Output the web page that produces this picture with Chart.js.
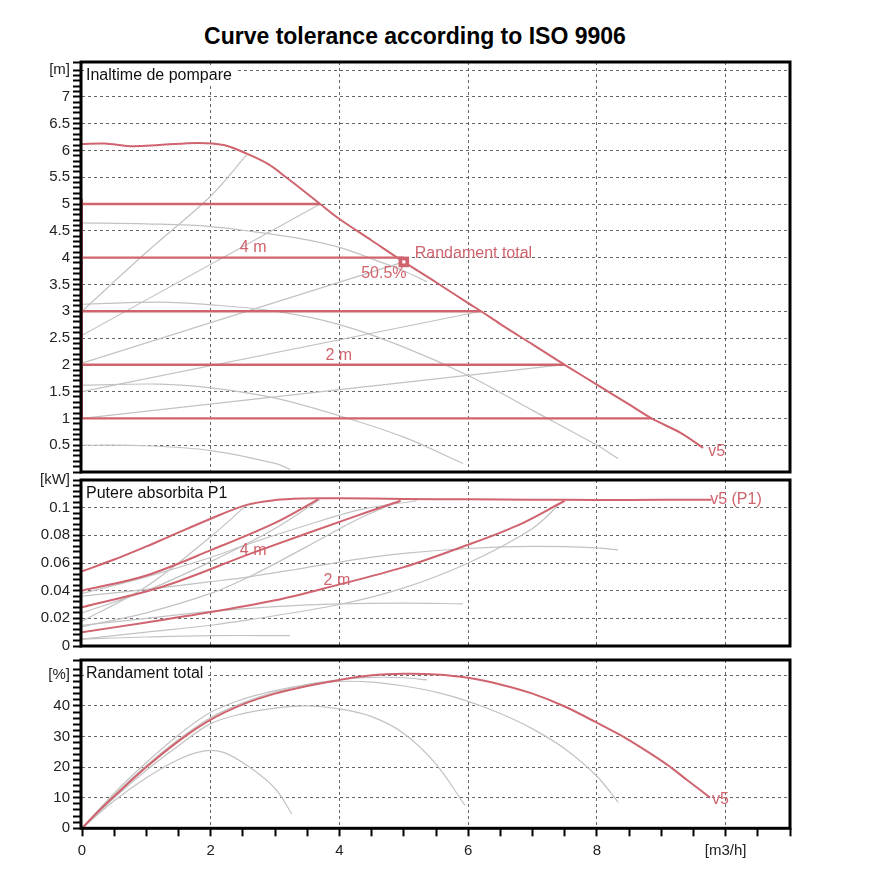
<!DOCTYPE html>
<html>
<head>
<meta charset="utf-8">
<script src="https://cdn.jsdelivr.net/npm/chart.js@4.4.1/dist/chart.umd.min.js"></script>
<style>
  body { margin: 0; background: #fff; }
  #wrap { position: relative; width: 880px; height: 880px; }
  .panel { position: absolute; left: 0; width: 880px; }
  #title {
    position: absolute; left: 0; top: 22px; width: 830px; text-align: center;
    font: bold 23px "Liberation Sans", Arial, sans-serif; line-height: 28px; color: #000;
  }
</style>
</head>
<body>
<div id="wrap">
  <div id="title">Curve tolerance according to ISO 9906</div>
  <div class="panel" style="top:50px;height:434px"><canvas id="headChart"></canvas></div>
  <div class="panel" style="top:468px;height:190px"><canvas id="powerChart"></canvas></div>
  <div class="panel" style="top:648px;height:232px"><canvas id="effChart"></canvas></div>
</div>
<script>
// ---- tick labels ----
const flowTickVals = [0, 2, 4, 6, 8, 10];
const flowTickText = ['0', '2', '4', '6', '8', '[m3/h]'];
const headTickVals = [0.5, 1, 1.5, 2, 2.5, 3, 3.5, 4, 4.5, 5, 5.5, 6, 6.5, 7, 7.5];
const headTickText = ['0.5', '1', '1.5', '2', '2.5', '3', '3.5', '4', '4.5', '5', '5.5', '6', '6.5', '7', '[m]'];
const powerTickVals = [0, 0.02, 0.04, 0.06, 0.08, 0.1, 0.12];
const powerTickText = ['0', '0.02', '0.04', '0.06', '0.08', '0.1', '[kW]'];
const effTickVals = [0, 10, 20, 30, 40, 50];
const effTickText = ['0', '10', '20', '30', '40', '[%]'];

// ---- Inaltime de pompare [m] ----
const headQ  = [0, 0.35, 0.75, 1.2, 1.8, 2.2, 2.56, 2.9, 3.18, 3.45, 3.7, 4.0, 4.5, 5.0, 5.5, 6.0, 6.2, 6.5, 7.0, 7.5, 8.0, 8.5, 8.85, 9.3, 9.65];
const headV5 = [6.12, 6.13, 6.08, 6.1, 6.14, 6.1, 5.94, 5.74, 5.49, 5.24, 5.0, 4.72, 4.32, 3.92, 3.54, 3.15, 3.0, 2.76, 2.38, 2.0, 1.63, 1.26, 1.0, 0.73, 0.45];
const levelHead = [5, 4, 3, 2, 1];
const levelEndQ = [3.7, 5.0, 6.2, 7.5, 8.85];
const axisRedH = [1, 5.1];
const dutyQ = [5.0];
const dutyH = [3.92];
// lower speed curves
const headAQ = [0, 1, 2, 3, 3.5, 4, 4.5, 5, 5.36];
const headA  = [4.65, 4.63, 4.58, 4.43, 4.33, 4.19, 3.98, 3.75, 3.55];
const headBQ = [0, 1.2, 2, 3, 4, 5, 6, 7, 8, 8.33];
const headB  = [3.13, 3.17, 3.12, 3.0, 2.75, 2.33, 1.8, 1.15, 0.5, 0.25];
const headCQ = [0, 1.2, 2, 3, 4, 5, 5.92];
const headC  = [1.62, 1.64, 1.57, 1.38, 1.05, 0.65, 0.16];
const headDQ = [0, 1, 2, 3, 3.23];
const headD  = [0.5, 0.49, 0.4, 0.16, 0.05];
// system lines
const sysEQ = [0, 1, 2, 2.56];
const sysE  = [3.0, 4.1, 5.15, 5.92];
const sysFQ = [0, 3.7];
const sysF  = [2.55, 5.0];
const sysGQ = [0, 5.0];
const sysG  = [2.03, 3.92];
const sysHQ = [0, 6.2];
const sysH  = [1.5, 3.0];
const sysIQ = [0, 7.45];
const sysI  = [1.0, 2.0];

// ---- Putere absorbita P1 [kW] ----
const powerQ  = [0, 0.5, 1, 1.3, 2, 2.56, 3, 3.4, 4, 5, 6, 7, 8, 9, 9.78];
const powerV5 = [0.054, 0.0625, 0.072, 0.078, 0.092, 0.102, 0.1055, 0.1067, 0.1068, 0.1063, 0.106, 0.1058, 0.1056, 0.1057, 0.1058];
const p5mQ = [0, 1, 2.04, 3, 3.67];
const p5m  = [0.04, 0.051, 0.07, 0.089, 0.106];
const p4mQ = [0, 1.26, 2.66, 4.32, 4.95];
const p4m  = [0.028, 0.043, 0.0675, 0.095, 0.105];
const p2mQ = [0, 1, 2, 3, 3.9, 5, 5.87, 6.76, 7.5];
const p2m  = [0.01, 0.017, 0.0245, 0.033, 0.0433, 0.057, 0.071, 0.087, 0.105];
const powAQ = [0, 1, 2, 2.6, 3.4, 4.32, 5.2];
const powA  = [0.038, 0.05, 0.064, 0.074, 0.086, 0.0986, 0.105];
const powBQ = [0, 1, 2, 2.6, 3.4, 4.32, 5, 6, 7, 8, 8.33];
const powB  = [0.036, 0.041, 0.0465, 0.05, 0.056, 0.063, 0.067, 0.0705, 0.072, 0.071, 0.0695];
const powCQ = [0, 1, 2, 3, 4, 5, 5.92];
const powC  = [0.015, 0.02, 0.025, 0.0285, 0.0305, 0.031, 0.0305];
const powDQ = [0, 1, 2, 3.23];
const powD  = [0.005, 0.0065, 0.0075, 0.0075];
const powSEQ = [0, 1, 2, 2.56];
const powSE  = [0.018, 0.043, 0.079, 0.102];
const powSFQ = [0, 1, 2, 3, 3.7];
const powSF  = [0.024, 0.04, 0.061, 0.085, 0.106];
const powSGQ = [0, 1, 2, 2.6, 3.5, 4.3, 4.95];
const powSG  = [0.014, 0.024, 0.038, 0.05, 0.072, 0.092, 0.105];
const powSIQ = [0, 1, 2, 2.6, 4, 5, 6, 7, 7.45];
const powSI  = [0.005, 0.01, 0.015, 0.019, 0.03, 0.042, 0.06, 0.085, 0.104];

// ---- Randament total [%] ----
const effQ  = [0, 0.25, 0.5, 1, 1.5, 2, 2.5, 3, 3.5, 4, 4.5, 5, 5.5, 6, 6.5, 7, 7.5, 8, 8.36, 8.7, 9.09, 9.4, 9.76];
const effV5 = [0, 5.5, 10.5, 20, 28.5, 35.5, 40.5, 44, 46.5, 48.5, 50, 50.5, 50.3, 49.2, 47, 44, 39.8, 34.5, 30.5, 26.2, 20.8, 15.8, 10];
const effAQ = [0, 0.5, 1, 1.5, 2, 2.5, 3, 3.5, 4, 4.5, 5, 5.36];
const effA  = [0, 10.8, 20.5, 29, 36.2, 41, 44.5, 47, 48.5, 49.3, 49.2, 48.5];
const effBQ = [0, 0.5, 1, 1.5, 2, 2.5, 3, 3.5, 4, 4.5, 5, 5.5, 6, 6.5, 7, 7.5, 8, 8.33];
const effB  = [0, 11.5, 21.5, 30.5, 37.9, 42.2, 45, 47, 48, 47.8, 46.5, 44.5, 41.5, 37.5, 32.5, 26, 17, 8.5];
const effCQ = [0, 0.5, 1, 1.5, 2, 2.5, 3, 3.5, 4, 4.5, 5, 5.5, 5.95];
const effC  = [0, 10, 19, 27, 34.2, 37.5, 39.3, 40, 39, 36.5, 31, 21, 7.5];
const effDQ = [0, 0.5, 1, 1.5, 1.9, 2.2, 2.6, 3.0, 3.26];
const effD  = [0, 9, 16.5, 22.5, 25.3, 24.8, 20, 13, 4.7];

const RED = '#d0646e';
const GREY = '#c2c2c2';
const GRID = 'rgba(85,85,85,0.9)';
const FONT = '"Liberation Sans", Arial, sans-serif';

function pts(xs, ys) { return xs.map((x, i) => ({ x, y: ys[i] })); }

function line(data, color, width, smooth = true) {
  return {
    data, borderColor: color, borderWidth: width, pointRadius: 0, fill: false,
    tension: smooth ? 0.35 : 0
  };
}

function near(list, v) { return list.findIndex(l => Math.abs(l - v) < 1e-6); }

function xScale(showLabels) {
  return {
    type: 'linear', min: 0, max: 11,
    border: { display: false, dash: [3, 3] },
    grid: {
      color: c => (c.tick && c.tick.value > 0 && near(flowTickVals, c.tick.value) >= 0) ? GRID : 'transparent',
      drawTicks: showLabels, tickLength: 8, tickColor: '#000', tickWidth: 2
    },
    ticks: {
      display: showLabels, stepSize: 0.5, autoSkip: false, maxRotation: 0, padding: 6,
      color: '#222', font: { family: FONT, size: 15 },
      callback: v => { const i = near(flowTickVals, v); return i < 0 ? '' : flowTickText[i]; }
    },
    afterFit: s => { s.height = showLabels ? 51.7 : 0; }
  };
}

function yScale(min, max, step, vals, texts) {
  return {
    type: 'linear', min, max,
    border: { display: false, dash: [3, 3] },
    grid: {
      color: c => (c.tick && c.tick.value > 0 && c.tick.value < max - 1e-6 && near(vals, c.tick.value) >= 0) ? GRID : 'transparent',
      tickLength: 9, tickColor: '#000', tickWidth: 2
    },
    ticks: {
      stepSize: step, autoSkip: false, padding: 3,
      color: '#222', font: { family: FONT, size: 15 },
      callback: v => { const i = near(vals, v); return i < 0 ? '' : texts[i]; }
    },
    afterFit: s => { s.width = 82; }
  };
}

// captions, curve names and frame
const notesPlugin = {
  id: 'notes',
  afterDatasetsDraw(chart, args, opts) {
    const { ctx, chartArea: a, scales: { x, y } } = chart;
    ctx.save();
    ctx.textBaseline = 'middle';
    ctx.font = '16px ' + FONT;
    const w = ctx.measureText(opts.caption).width;
    ctx.fillStyle = '#fff';
    ctx.fillRect(a.left + 2, a.top + 4, w + 6, 19);
    ctx.fillStyle = '#111';
    ctx.textAlign = 'left';
    ctx.fillText(opts.caption, a.left + 4, a.top + 14);

    ctx.font = '16px ' + FONT;
    ctx.fillStyle = RED;
    (opts.labels || []).forEach(n => {
      ctx.textAlign = n.align || 'center';
      ctx.fillText(n.text, x.getPixelForValue(n.x), y.getPixelForValue(n.y));
    });

    ctx.strokeStyle = '#000';
    ctx.lineWidth = 3;
    ctx.strokeRect(a.left - 1, a.top, a.width + 1, a.height);
    ctx.restore();
  }
};

function options(yCfg, showX, pad, notes) {
  return {
    responsive: true, maintainAspectRatio: false, animation: false,
    layout: { padding: { top: pad[0], bottom: pad[1], left: 0, right: 90 } },
    plugins: { legend: { display: false }, tooltip: { enabled: false }, notes },
    scales: { x: xScale(showX), y: yCfg }
  };
}

// head chart
const headSets = [
  {
    data: pts(dutyQ, dutyH), showLine: false, pointStyle: 'rect', pointRadius: 2.2,
    pointBorderWidth: 0, pointBackgroundColor: '#fff'
  },
  {
    data: pts(dutyQ, dutyH), showLine: false, pointStyle: 'rect', pointRadius: 7.5,
    pointBorderWidth: 0, pointBackgroundColor: RED
  },
  line(pts(headQ, headV5), RED, 2),
  ...levelHead.map((h, i) => line(pts([0, levelEndQ[i]], [h, h]), RED, 2.4, false)),
  line(pts([0, 0], axisRedH), RED, 2, false),
  line(pts(headAQ, headA), GREY, 1.2),
  line(pts(headBQ, headB), GREY, 1.2),
  line(pts(headCQ, headC), GREY, 1.2),
  line(pts(headDQ, headD), GREY, 1.2),
  line(pts(sysEQ, sysE), GREY, 1.2),
  line(pts(sysFQ, sysF), GREY, 1.2, false),
  line(pts(sysGQ, sysG), GREY, 1.2, false),
  line(pts(sysHQ, sysH), GREY, 1.2, false),
  line(pts(sysIQ, sysI), GREY, 1.2, false)
];

new Chart(document.getElementById('headChart'), {
  type: 'line',
  data: { datasets: headSets },
  options: options(yScale(0, 7.65, 0.1, headTickVals, headTickText), false, [11.6, 5.5], {
    caption: 'Inaltime de pompare',
    labels: [
      { text: '4 m', x: 2.66, y: 4.19 },
      { text: '2 m', x: 3.99, y: 2.18 },
      { text: 'Randament total', x: 5.17, y: 4.07, align: 'left' },
      { text: '50.5%', x: 4.69, y: 3.71 },
      { text: 'v5', x: 9.73, y: 0.385, align: 'left' }
    ]
  }),
  plugins: [notesPlugin]
});

// power chart
new Chart(document.getElementById('powerChart'), {
  type: 'line',
  data: {
    datasets: [
      line(pts(powerQ, powerV5), RED, 2),
      line(pts(p5mQ, p5m), RED, 2),
      line(pts(p4mQ, p4m), RED, 2),
      line(pts(p2mQ, p2m), RED, 2),
      line(pts(powAQ, powA), GREY, 1.2),
      line(pts(powBQ, powB), GREY, 1.2),
      line(pts(powCQ, powC), GREY, 1.2),
      line(pts(powDQ, powD), GREY, 1.2),
      line(pts(powSEQ, powSE), GREY, 1.2),
      line(pts(powSFQ, powSF), GREY, 1.2),
      line(pts(powSGQ, powSG), GREY, 1.2),
      line(pts(powSIQ, powSI), GREY, 1.2)
    ]
  },
  options: options(yScale(0, 0.12, 0.004, powerTickVals, powerTickText), false, [11, 5.5], {
    caption: 'Putere absorbita P1',
    labels: [
      { text: '4 m', x: 2.66, y: 0.0692 },
      { text: '2 m', x: 3.96, y: 0.0474 },
      { text: 'v5 (P1)', x: 9.76, y: 0.1058, align: 'left' }
    ]
  }),
  plugins: [notesPlugin]
});

// efficiency chart
new Chart(document.getElementById('effChart'), {
  type: 'line',
  data: {
    datasets: [
      line(pts(effQ, effV5), RED, 2),
      line(pts(effAQ, effA), GREY, 1.2),
      line(pts(effBQ, effB), GREY, 1.2),
      line(pts(effCQ, effC), GREY, 1.2),
      line(pts(effDQ, effD), GREY, 1.2)
    ]
  },
  options: options(yScale(0, 55, 2, effTickVals, effTickText), true, [6.2, 0], {
    caption: 'Randament total',
    labels: [
      { text: 'v5', x: 9.79, y: 9.26, align: 'left' }
    ]
  }),
  plugins: [notesPlugin]
});
</script>
</body>
</html>
